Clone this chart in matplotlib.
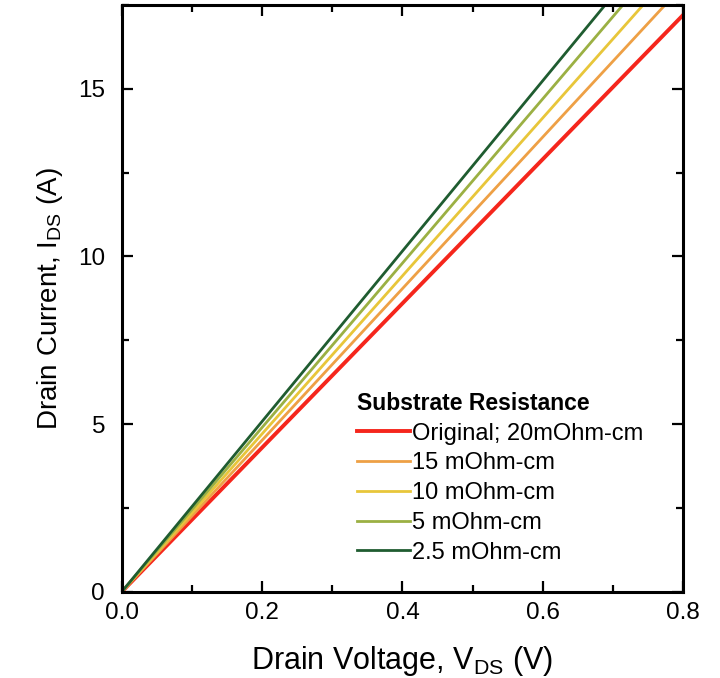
import matplotlib.pyplot as plt
from matplotlib.ticker import MultipleLocator

plt.rcParams['font.family'] = ['Liberation Sans', 'DejaVu Sans']

# Drain voltage sweep (V)
v_ds = [0.0, 0.2, 0.4, 0.6, 0.8]

# Drain current (A) for each substrate resistivity
i_original = [0.0, 4.30, 8.60, 12.90, 17.20]
i_15 = [0.0, 4.52, 9.04, 13.56, 18.08]
i_10 = [0.0, 4.71, 9.42, 14.13, 18.84]
i_5 = [0.0, 4.90, 9.80, 14.70, 19.60]
i_2p5 = [0.0, 5.08, 10.16, 15.24, 20.32]

labels = ['Original; 20mOhm-cm', '15 mOhm-cm', '10 mOhm-cm', '5 mOhm-cm', '2.5 mOhm-cm']
colors = ['#f5261c', '#eea045', '#e8c63a', '#9bb043', '#1f5c30']
widths = [2.8, 2.0, 2.0, 2.0, 2.0]

fig = plt.figure(figsize=(7.2, 6.78), dpi=100)
ax = fig.add_axes([0.169, 0.127, 0.780, 0.866])

for ys, lab, c, lw in zip([i_original, i_15, i_10, i_5, i_2p5], labels, colors, widths):
    ax.plot(v_ds, ys, color=c, lw=lw, label=lab)

ax.set_xlim(0, 0.8)
ax.set_ylim(0, 17.5)
ax.xaxis.set_major_locator(MultipleLocator(0.2))
ax.xaxis.set_minor_locator(MultipleLocator(0.1))
ax.yaxis.set_major_locator(MultipleLocator(5))
ax.yaxis.set_minor_locator(MultipleLocator(2.5))
ax.xaxis.set_major_formatter(plt.FuncFormatter(lambda v, p: f'{v:.1f}'))

ax.tick_params(which='both', direction='in', top=True, right=True,
               labeltop=False, labelright=False, width=1.6, labelsize=17.5)
ax.tick_params(which='major', length=8, pad=7)
ax.tick_params(which='minor', length=5)
ax.tick_params(axis='y', which='major', pad=12)
for s in ax.spines.values():
    s.set_linewidth(2.2)

ax.set_xlabel('Drain Voltage, V$_\\mathregular{DS}$ (V)', fontsize=22, labelpad=15)
ax.set_ylabel('Drain Current, I$_\\mathregular{DS}$ (A)', fontsize=20, labelpad=9)

leg = ax.legend(loc='upper left', bbox_to_anchor=(0.398, 0.361), frameon=False,
                title='Substrate Resistance', fontsize=17, handlelength=2.25,
                handletextpad=0.1, labelspacing=0.33, borderpad=0,
                alignment='left',
                title_fontproperties={'weight': 'bold', 'size': 16.5})

fig.savefig('out.png', dpi=100)
